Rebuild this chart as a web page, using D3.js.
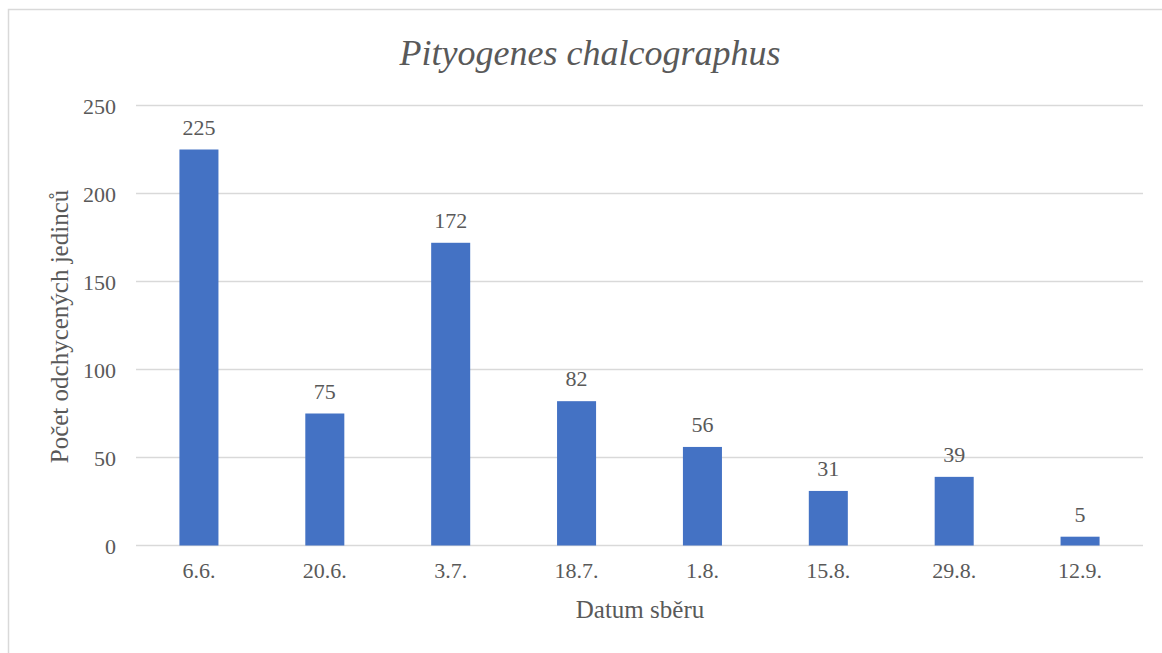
<!DOCTYPE html>
<html>
<head>
<meta charset="utf-8">
<script src="https://cdn.jsdelivr.net/npm/d3@7"></script>
<style>
  body { margin: 0; background: #fff; }
  svg text { font-family: "Liberation Serif", "DejaVu Serif", serif; fill: #595959; }
</style>
</head>
<body>
<svg id="chart" width="1162" height="653"></svg>
<script>
// data
var dates = ['6.6.', '20.6.', '3.7.', '18.7.', '1.8.', '15.8.', '29.8.', '12.9.'];
var counts = [225, 75, 172, 82, 56, 31, 39, 5];
var yTicks = [0, 50, 100, 150, 200, 250];

var svg = d3.select('#chart'),
    margin = {top: 105.5, right: 19, bottom: 107.5, left: 136},
    width = +svg.attr('width') - margin.left - margin.right,
    height = +svg.attr('height') - margin.top - margin.bottom;

// outer chart border (right and bottom run off the page)
svg.append('rect')
  .attr('x', 8.5).attr('y', 9.5)
  .attr('width', 1170).attr('height', 660)
  .attr('fill', 'none')
  .attr('stroke', '#d9d9d9')
  .attr('stroke-width', 1.5);

var g = svg.append('g').attr('transform', 'translate(' + margin.left + ',' + margin.top + ')');

var x = d3.scaleBand().domain(dates).range([0, width]).paddingInner(0.69).paddingOuter(0.345);
var y = d3.scaleLinear().domain([0, 250]).range([height, 0]);

// gridlines
g.append('g')
  .selectAll('line')
  .data(yTicks)
  .enter().append('line')
    .attr('x1', 0).attr('x2', width)
    .attr('y1', function(d) { return y(d); })
    .attr('y2', function(d) { return y(d); })
    .attr('stroke', '#d9d9d9')
    .attr('stroke-width', 1.5);

// y axis labels
var yAxis = g.append('g')
  .call(d3.axisLeft(y).tickValues(yTicks).tickSize(0).tickPadding(20));
yAxis.select('.domain').remove();
yAxis.selectAll('text').attr('font-size', 22).attr('dy', '0.35em');

// x axis labels
var xAxis = g.append('g')
  .attr('transform', 'translate(0,' + height + ')')
  .call(d3.axisBottom(x).tickSize(0).tickPadding(17));
xAxis.select('.domain').remove();
xAxis.selectAll('text').attr('font-size', 22);

// bars
g.selectAll('.bar')
  .data(counts)
  .enter().append('rect')
    .attr('class', 'bar')
    .attr('x', function(d, i) { return x(dates[i]); })
    .attr('y', function(d) { return y(d); })
    .attr('width', x.bandwidth())
    .attr('height', function(d) { return height - y(d); })
    .attr('fill', '#4472c4');

// value labels
g.selectAll('.val')
  .data(counts)
  .enter().append('text')
    .attr('class', 'val')
    .attr('x', function(d, i) { return x(dates[i]) + x.bandwidth() / 2; })
    .attr('y', function(d) { return y(d) - 15; })
    .attr('text-anchor', 'middle')
    .attr('font-size', 22)
    .text(function(d) { return d; });

// title
svg.append('text')
  .attr('x', 590).attr('y', 65)
  .attr('text-anchor', 'middle')
  .attr('font-size', 36)
  .attr('font-style', 'italic')
  .text('Pityogenes chalcographus');

// axis titles
svg.append('text')
  .attr('transform', 'translate(68,' + (margin.top + height / 2 + 1) + ') rotate(-90)')
  .attr('text-anchor', 'middle')
  .attr('font-size', 25)
  .text('Počet odchycených jedinců');

svg.append('text')
  .attr('x', 640).attr('y', 618)
  .attr('text-anchor', 'middle')
  .attr('font-size', 25)
  .text('Datum sběru');
</script>
</body>
</html>
